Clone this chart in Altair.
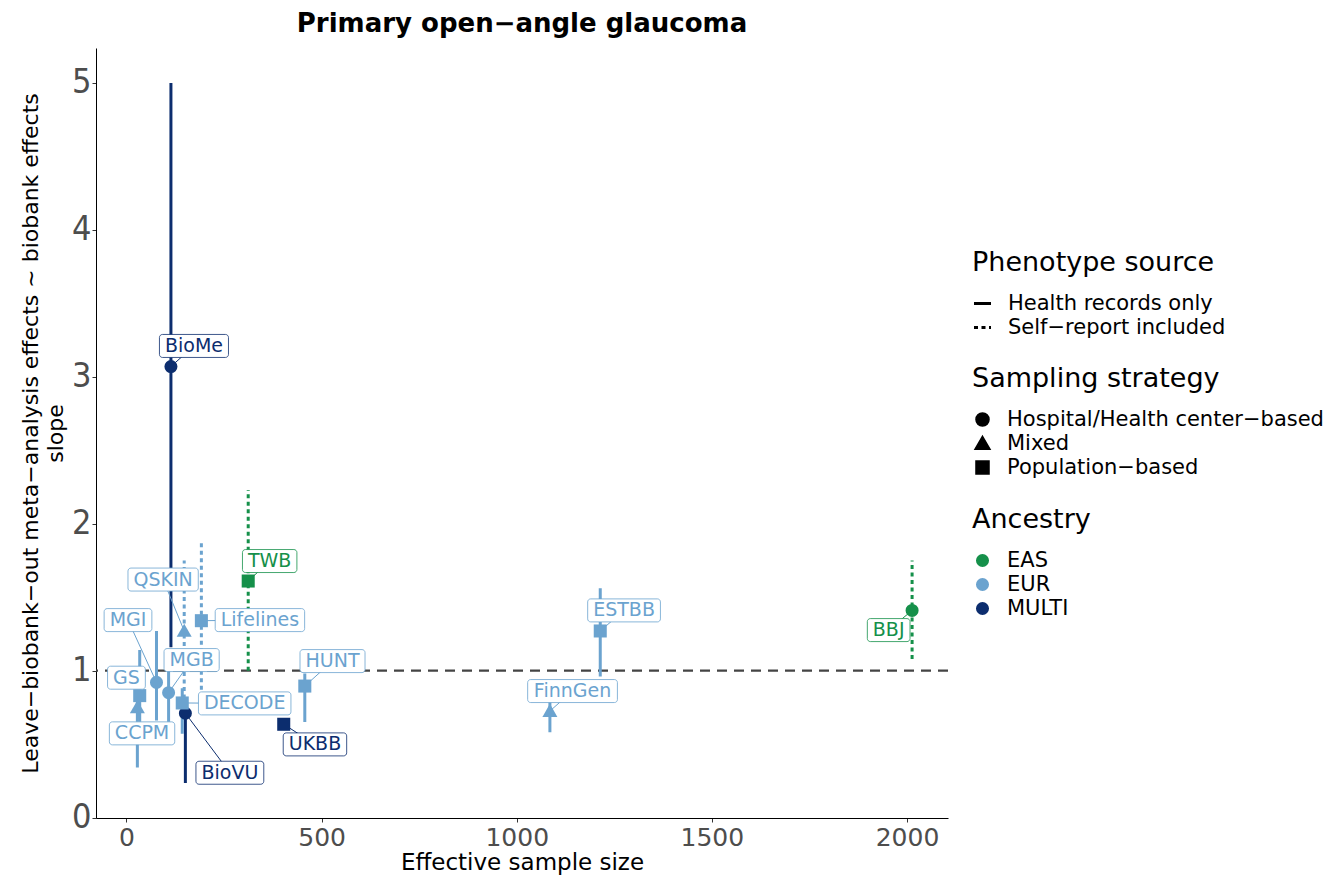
import altair as alt
import pandas as pd

# ---------------- data ----------------
biobank = ["BioMe", "BioVU", "UKBB", "TWB", "BBJ", "QSKIN", "Lifelines", "MGI",
           "MGB", "GS", "CCPM", "DECODE", "HUNT", "ESTBB", "FinnGen"]
eff_n = [114, 151, 403, 312, 2013, 148, 192, 77, 108, 34, 28, 143, 457, 1214, 1085]
slope = [3.07, 0.71, 0.635, 1.61, 1.41, 1.27, 1.34, 0.92, 0.85, 0.83, 0.75, 0.78, 0.895, 1.27, 0.725]
ci_lo = [1.16, 0.235, 0.60, 1.00, 1.08, 0.81, 0.87, 0.66, 0.62, 0.55, 0.34, 0.57, 0.65, 0.96, 0.58]
ci_hi = [5.00, 0.78, 0.67, 2.23, 1.75, 1.75, 1.88, 1.27, 1.05, 1.14, 0.95, 0.88, 0.98, 1.56, 0.80]
ancestry = ["MULTI", "MULTI", "MULTI", "EAS", "EAS", "EUR", "EUR", "EUR",
            "EUR", "EUR", "EUR", "EUR", "EUR", "EUR", "EUR"]
H, M, P = "Hospital/Health center\u2212based", "Mixed", "Population\u2212based"
sampling = [H, H, P, P, H, M, P, H, H, P, M, P, P, P, M]
HR, SR = "Health records only", "Self\u2212report included"
source = [HR, HR, HR, SR, SR, SR, SR, HR, HR, HR, HR, HR, HR, HR, HR]
# label (ggrepel) positions, in data units
label_x = [173, 265, 483, 367, 1953, 94, 342, 4, 167, 0, 40, 303, 528, 1275, 1143]
label_y = [3.21, 0.305, 0.498, 1.746, 1.276, 1.62, 1.344, 1.344, 1.072, 0.952,
           0.573, 0.777, 1.065, 1.41, 0.861]

anc_domain = ["EAS", "EUR", "MULTI"]
anc_colors = ["#15904A", "#6BA3CF", "#0C2D6E"]

# ---------------- geometry of the plot area ----------------
W, Hh = 852, 770
XDOM = [-78, 2105]
YDOM = [-0.003, 5.238]
FONT = "DejaVu Sans"
LABEL_SIZE = 19
TRIANGLE = "M0,-1.1L1.15,0.9L-1.15,0.9Z"

# DejaVu Sans advance widths (per 1000 em) for estimating label-box widths
_w = {'A': 684, 'B': 686, 'C': 698, 'D': 770, 'E': 632, 'F': 575, 'G': 775, 'H': 752,
      'I': 295, 'J': 295, 'K': 656, 'L': 557, 'M': 863, 'N': 748, 'O': 787, 'P': 603,
      'Q': 787, 'R': 695, 'S': 635, 'T': 611, 'U': 732, 'V': 684, 'W': 989, 'X': 685,
      'Y': 611, 'Z': 685, 'a': 613, 'b': 635, 'c': 550, 'd': 635, 'e': 615, 'f': 352,
      'g': 635, 'h': 634, 'i': 278, 'j': 278, 'k': 579, 'l': 278, 'm': 974, 'n': 634,
      'o': 612, 'p': 635, 'q': 635, 'r': 411, 's': 521, 't': 392, 'u': 634, 'v': 592,
      'w': 818, 'x': 592, 'y': 592, 'z': 525}


def text_px(s, size):
    return sum(_w.get(c, 600) for c in s) * size / 1000.0


ux = (XDOM[1] - XDOM[0]) / W
uy = (YDOM[1] - YDOM[0]) / Hh

df = pd.DataFrame({
    "biobank": biobank, "n": eff_n, "slope": slope, "lo": ci_lo, "hi": ci_hi,
    "ancestry": ancestry, "sampling": sampling, "source": source,
    "lx": label_x, "ly": label_y,
})
half_w = [(text_px(s, LABEL_SIZE) + 11) / 2 * ux for s in biobank]
half_h = 11.5 * uy
df["bx1"] = [a - b for a, b in zip(label_x, half_w)]
df["bx2"] = [a + b for a, b in zip(label_x, half_w)]
df["by1"] = [a - half_h for a in label_y]
df["by2"] = [a + half_h for a in label_y]

xscale = alt.Scale(domain=XDOM, nice=False, zero=False)
yscale = alt.Scale(domain=YDOM, nice=False, zero=False)

xaxis = alt.Axis(values=[0, 500, 1000, 1500, 2000], format="d", grid=False, labelFontSize=25,
                 labelFont=FONT, labelColor="#4D4D4D", tickSize=4, labelPadding=3,
                 title="Effective sample size", titleFontSize=23, titleFont=FONT,
                 titleFontWeight="normal", titleColor="black", titlePadding=1,
                 domainColor="black", tickColor="#333333")
yaxis = alt.Axis(values=[0, 1, 2, 3, 4, 5], grid=False, labelFontSize=34,
                 labelFont="Liberation Sans Narrow, DejaVu Sans Condensed, sans-serif",
                 labelColor="#4D4D4D", tickSize=4, labelPadding=1,
                 title=["Leave\u2212biobank\u2212out meta\u2212analysis effects ~ biobank effects", "slope"],
                 titleFontSize=22, titleFont=FONT, titleFontWeight="normal",
                 titleColor="black", titlePadding=4, titleLineHeight=25,
                 domainColor="black", tickColor="#333333")

X = alt.X("n:Q", scale=xscale, axis=xaxis)
Y = alt.Y("slope:Q", scale=yscale, axis=yaxis)
color_scale = alt.Scale(domain=anc_domain, range=anc_colors)

LEG = dict(orient="none", titleFontSize=27, titleFont=FONT, titleFontWeight="normal",
           titleColor="black", titlePadding=16, labelFontSize=21, labelFont=FONT,
           labelColor="black", rowPadding=2, padding=0, labelLimit=0, titleLimit=0)

base = alt.Chart(df)

hline = alt.Chart(pd.DataFrame({"ref": [1.0]})).mark_rule(
    strokeDash=[10, 7], color="#444444", strokeWidth=2.4
).encode(y=alt.Y("ref:Q", scale=yscale, axis=yaxis))

ci = base.mark_rule(strokeWidth=3).encode(
    x=X,
    y=alt.Y("lo:Q", scale=yscale, axis=yaxis),
    y2="hi:Q",
    color=alt.Color("ancestry:N", scale=color_scale, legend=None),
    strokeDash=alt.StrokeDash(
        "source:N",
        scale=alt.Scale(domain=[HR, SR], range=[[1, 0], [4, 3.5]]),
        legend=alt.Legend(
            title="Phenotype source", legendX=876, legendY=202,
            symbolType="stroke", symbolStrokeColor="black", symbolStrokeWidth=3,
            symbolSize=289, labelOffset=15, **LEG,
        ),
    ),
)

segs = base.mark_rule(strokeWidth=1).encode(
    x=X, y=Y, x2="lx:Q", y2="ly:Q",
    color=alt.Color("ancestry:N", scale=color_scale, legend=None),
)

pts = base.mark_point(filled=True, opacity=1, size=170).encode(
    x=X, y=Y,
    shape=alt.Shape(
        "sampling:N",
        scale=alt.Scale(domain=[H, M, P], range=["circle", TRIANGLE, "square"]),
        legend=alt.Legend(
            title="Sampling strategy", legendX=876, legendY=318,
            symbolFillColor="black", symbolStrokeColor="black", symbolSize=170,
            labelOffset=14, **LEG,
        ),
    ),
    color=alt.Color(
        "ancestry:N", scale=color_scale,
        legend=alt.Legend(
            title="Ancestry", legendX=876, legendY=459,
            symbolType="circle", symbolSize=170, labelOffset=14, **LEG,
        ),
    ),
)

boxes = base.mark_rect(fill="white", strokeWidth=0.8, cornerRadius=3).encode(
    x=alt.X("bx1:Q", scale=xscale, axis=xaxis), x2="bx2:Q",
    y=alt.Y("by1:Q", scale=yscale, axis=yaxis), y2="by2:Q",
    stroke=alt.Stroke("ancestry:N", scale=color_scale, legend=None),
)

texts = base.mark_text(font=FONT, fontSize=LABEL_SIZE, align="center", baseline="middle").encode(
    x=alt.X("lx:Q", scale=xscale, axis=xaxis),
    y=alt.Y("ly:Q", scale=yscale, axis=yaxis),
    text="biobank:N",
    color=alt.Color("ancestry:N", scale=color_scale, legend=None),
)

chart = alt.layer(hline, ci, segs, pts, boxes, texts).resolve_legend(
    color="independent", stroke="independent"
).properties(
    width=W, height=Hh,
    title=alt.TitleParams("Primary open\u2212angle glaucoma", fontSize=26, font=FONT,
                          fontWeight="bold", anchor="middle", offset=11, color="black"),
    autosize=alt.AutoSizeParams(type="none"),
    padding={"left": 88, "top": 40, "right": 381, "bottom": 58},
).configure_view(stroke=None).configure_axis(domainWidth=1, tickWidth=1)

chart.save("out.html", embed_options={"renderer": "svg", "actions": False})
